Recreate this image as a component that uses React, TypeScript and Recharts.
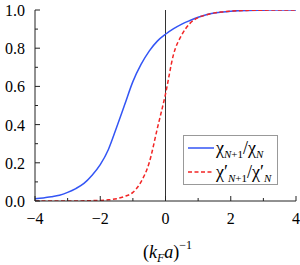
import React from 'react';
import { LineChart, Line, XAxis, YAxis, ReferenceLine, Legend, Label } from 'recharts';

const xValues = [-4, -3.75, -3.5, -3.25, -3, -2.75, -2.5, -2.25, -2, -1.75, -1.5, -1.25, -1, -0.75, -0.5, -0.25, 0, 0.25, 0.5, 0.75, 1, 1.25, 1.5, 1.75, 2, 2.5, 3, 3.5, 4];
const chiRatio = [0.012, 0.016, 0.022, 0.03, 0.045, 0.065, 0.092, 0.135, 0.19, 0.27, 0.385, 0.505, 0.625, 0.715, 0.785, 0.837, 0.873, 0.902, 0.926, 0.945, 0.962, 0.975, 0.984, 0.99, 0.994, 0.998, 0.999, 1.0, 1.0];
const chiPrimeRatio = [0, 0, 0, 0, 0, 0, 0.001, 0.002, 0.003, 0.006, 0.012, 0.024, 0.045, 0.1, 0.2, 0.38, 0.56, 0.77, 0.87, 0.93, 0.96, 0.975, 0.985, 0.99, 0.994, 0.998, 0.999, 1.0, 1.0];
const xTicks = [-4, -3, -2, -1, 0, 1, 2, 3, 4];
const yTicks = [0, 0.1, 0.2, 0.3, 0.4, 0.5, 0.6, 0.7, 0.8, 0.9, 1.0];

const data = xValues.map((x, i) => ({ x, chi: chiRatio[i], chiPrime: chiPrimeRatio[i] }));

const FONT = '"Liberation Serif"';
const AX = '#222';
const BLUE = '#3355f5';
const RED = '#f22525';

const isMajorY = (v: number) => Math.round(v * 10) % 2 === 0;
const isMajorX = (v: number) => v % 2 === 0;
const fmtX = (v: number) => (v < 0 ? '\u2212' + Math.abs(v) : String(v));

const txt: React.CSSProperties = { fontFamily: FONT };

const BottomTick = (props: any) => {
  const { x, y, payload } = props;
  const major = isMajorX(payload.value);
  return (
    <g>
      <line x1={x} x2={x} y1={y} y2={y - (major ? 5 : 3)} stroke={AX} />
      {major && (
        <text x={x} y={y + 23} textAnchor="middle" fontSize={16} style={txt} fill="#000">
          {fmtX(payload.value)}
        </text>
      )}
    </g>
  );
};

const TopTick = (props: any) => {
  const { x, y, payload } = props;
  const major = isMajorX(payload.value);
  return <line x1={x} x2={x} y1={y} y2={y + (major ? 4 : 3)} stroke={AX} />;
};

const LeftTick = (props: any) => {
  const { x, y, payload } = props;
  const major = isMajorY(payload.value);
  return (
    <g>
      <line x1={x} x2={x + (major ? 5 : 3)} y1={y} y2={y} stroke={AX} />
      {major && (
        <text x={x - 10} y={y + 6} textAnchor="end" fontSize={16} style={txt} fill="#000">
          {payload.value.toFixed(1)}
        </text>
      )}
    </g>
  );
};

const RightTick = (props: any) => {
  const { x, y, payload } = props;
  const major = isMajorY(payload.value);
  return <line x1={x} x2={x - (major ? 5 : 3)} y1={y} y2={y} stroke={AX} />;
};

const XLabel = (props: any) => {
  const { viewBox } = props;
  const cx = viewBox.x + viewBox.width / 2 + 2;
  const by = viewBox.y + 57;
  return (
    <text x={cx} y={by} textAnchor="middle" fontSize={18} style={txt} fill="#000">
      <tspan>(</tspan>
      <tspan fontStyle="italic">k</tspan>
      <tspan fontStyle="italic" fontSize={12} dy={4}>F</tspan>
      <tspan fontStyle="italic" dy={-4}>a</tspan>
      <tspan>)</tspan>
      <tspan fontSize={12} dy={-9}>{'\u22121'}</tspan>
    </text>
  );
};

const sub: React.CSSProperties = { fontSize: 11, verticalAlign: 'baseline', position: 'relative', top: 4 };

const LegendBox = () => (
  <div
    style={{
      border: '1px solid #999',
      background: '#fff',
      width: 93,
      height: 48,
      fontFamily: FONT,
      fontSize: 18,
      color: '#000',
      boxSizing: 'content-box',
    }}
  >
    <div style={{ display: 'flex', alignItems: 'center', height: 24, paddingLeft: 4 }}>
      <svg width={26} height={6}>
        <line x1={0} x2={26} y1={3} y2={3} stroke={BLUE} strokeWidth={1.5} />
      </svg>
      <span style={{ marginLeft: 2, whiteSpace: 'nowrap' }}>
        χ<span style={sub}><i>N</i>+1</span>/χ<span style={sub}><i>N</i></span>
      </span>
    </div>
    <div style={{ display: 'flex', alignItems: 'center', height: 24, paddingLeft: 4 }}>
      <svg width={26} height={6}>
        <line x1={0} x2={26} y1={3} y2={3} stroke={RED} strokeWidth={1.5} strokeDasharray="4 2.5" />
      </svg>
      <span style={{ marginLeft: 2, whiteSpace: 'nowrap' }}>
        χ′<span style={sub}><i>N</i>+1</span>/χ′<span style={sub}><i>N</i></span>
      </span>
    </div>
  </div>
);

export default function App() {
  return (
    <div style={{ width: 300, height: 265, background: '#fff', fontFamily: FONT }}>
      <style>{'body{margin:0}'}</style>
      <LineChart width={300} height={265} data={data} margin={{ top: 10, right: 4, bottom: 0, left: 0 }} style={txt}>
        <XAxis
          dataKey="x"
          type="number"
          domain={[-4, 4]}
          ticks={xTicks}
          interval={0}
          height={64}
          tickSize={0}
          tickMargin={0}
          tickLine={false}
          axisLine={{ stroke: AX }}
          tick={BottomTick}
          allowDataOverflow
        >
          <Label content={XLabel} />
        </XAxis>
        <XAxis
          xAxisId="top"
          orientation="top"
          dataKey="x"
          type="number"
          domain={[-4, 4]}
          ticks={xTicks}
          interval={0}
          height={0}
          tickSize={0}
          tickMargin={0}
          tickLine={false}
          axisLine={{ stroke: AX }}
          tick={TopTick}
          allowDataOverflow
        />
        <YAxis
          type="number"
          domain={[0, 1]}
          ticks={yTicks}
          interval={0}
          width={35}
          tickSize={0}
          tickMargin={0}
          tickLine={false}
          axisLine={{ stroke: AX }}
          tick={LeftTick}
          allowDataOverflow
        />
        <YAxis
          yAxisId="right"
          orientation="right"
          type="number"
          domain={[0, 1]}
          ticks={yTicks}
          interval={0}
          width={0}
          tickSize={0}
          tickMargin={0}
          tickLine={false}
          axisLine={{ stroke: AX }}
          tick={RightTick}
          allowDataOverflow
        />
        <ReferenceLine x={0} stroke="#333" strokeWidth={1} />
        <Line
          type="monotone"
          dataKey="chi"
          stroke={BLUE}
          strokeWidth={1.5}
          dot={false}
          isAnimationActive={false}
        />
        <Line
          type="monotone"
          dataKey="chiPrime"
          stroke={RED}
          strokeWidth={1.5}
          strokeDasharray="4 2.5"
          dot={false}
          isAnimationActive={false}
        />
        <Legend
          layout="horizontal"
          verticalAlign="middle"
          align="center"
          content={LegendBox}
          wrapperStyle={{ left: 183, top: 135, width: 95, height: 50 }}
        />
      </LineChart>
    </div>
  );
}
